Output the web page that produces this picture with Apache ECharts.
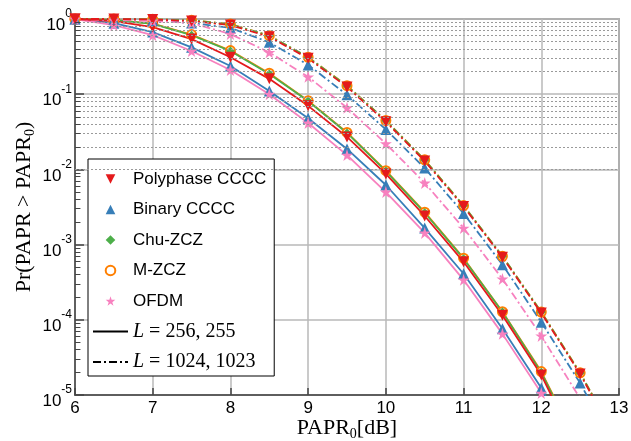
<!DOCTYPE html>
<html><head><meta charset="utf-8">
<script src="https://cdn.jsdelivr.net/npm/echarts@6/dist/echarts.min.js"></script>
<style>html,body{margin:0;padding:0;background:#fff}#c{width:631px;height:441px}</style>
</head><body><div id="c"></div>
<script>
// x positions (dB)
const xs256 = [6, 6.5, 7, 7.5, 8, 8.5, 9, 9.5, 10, 10.5, 11, 11.5, 12, 12.5];
const xs1024 = [6, 6.5, 7, 7.5, 8, 8.5, 9, 9.5, 10, 10.5, 11, 11.5, 12, 12.5, 13];

// L = 256, 255 (solid)
const poly256 = [1.0, 0.94, 0.78, 0.54, 0.31, 0.16, 0.070, 0.027, 0.0087, 0.0024, 5.9e-4, 1.15e-4, 1.85e-5, 1.6e-6];
const binary256 = [1.0, 0.88, 0.67, 0.42, 0.237, 0.11, 0.048, 0.0187, 0.0062, 0.00166, 4.1e-4, 7.6e-5, 1.24e-5, 1.3e-6];
const chu256 = [1.0, 0.97, 0.86, 0.61, 0.375, 0.186, 0.081, 0.0305, 0.0095, 0.00265, 6.5e-4, 1.27e-4, 2.0e-5, 1.8e-6];
const mzcz256 = [1.0, 0.97, 0.87, 0.62, 0.38, 0.19, 0.082, 0.031, 0.0096, 0.0027, 6.6e-4, 1.28e-4, 2.05e-5, 1.9e-6];
const ofdm256 = [1.0, 0.83, 0.61, 0.375, 0.21, 0.10, 0.0414, 0.0155, 0.005, 0.00143, 3.4e-4, 6.5e-5, 1.06e-5, 8e-7];

// L = 1024, 1023 (dash-dot)
const poly1024 = [1.0, 0.999, 0.985, 0.94, 0.83, 0.58, 0.30, 0.125, 0.043, 0.0129, 0.0032, 6.8e-4, 1.23e-4, 1.9e-5, 2.2e-6];
const binary1024 = [1.0, 0.99, 0.955, 0.885, 0.76, 0.49, 0.245, 0.098, 0.034, 0.0104, 0.0026, 5.4e-4, 9.3e-5, 1.44e-5, 1.6e-6];
const chu1024 = [1.0, 0.999, 0.99, 0.96, 0.85, 0.60, 0.31, 0.129, 0.0445, 0.0133, 0.0033, 7.0e-4, 1.27e-4, 1.96e-5, 2.3e-6];
const mzcz1024 = [1.0, 0.999, 0.99, 0.96, 0.855, 0.60, 0.31, 0.13, 0.0447, 0.0134, 0.0033, 7.0e-4, 1.27e-4, 1.97e-5, 2.3e-6];
const ofdm1024 = [1.0, 0.97, 0.94, 0.885, 0.63, 0.36, 0.17, 0.066, 0.022, 0.0066, 0.00166, 3.5e-4, 6.1e-5, 9.0e-6, 9e-7];

// axis ticks
const xTicks = [6, 7, 8, 9, 10, 11, 12, 13];
const yDecades = [-5, -4, -3, -2, -1, 0];

const names = ['Polyphase CCCC', 'Binary CCCC', 'Chu-ZCZ', 'M-ZCZ', 'OFDM'];
const lenNames = ['L256', 'L1024'];

const colors = {red: '#e41a1c', blue: '#377eb8', green: '#4daf4a', orange: '#ff7f00', pink: '#f781bf'};
const downTri = 'path://M0,0L100,0L50,86.6Z';
const star = 'path://M100,0L122.45,69.1L195.1,69.1L136.3,111.8L158.8,180.9L100,138.2L41.2,180.9L63.7,111.8L4.9,69.1L77.55,69.1Z';
const dashDot = [8, 3, 2, 3];

function zip(xs, ys) { return xs.map((x, i) => [x, ys[i]]); }

function mk(name, xs, ys, color, symbol, size, dash) {
  return {
    type: 'line', name: name, data: zip(xs, ys),
    symbol: symbol, symbolSize: size, showSymbol: true, clip: true,
    itemStyle: {color: color, borderWidth: symbol === 'emptyCircle' ? 1.8 : 0},
    lineStyle: {color: color, width: 1.8, type: dash ? dashDot : 'solid'},
    emphasis: {disabled: true}, animation: false
  };
}

// minor grid lines and minor ticks on the log axis
const minorVals = [];
yDecades.slice(0, 5).forEach(e => { for (let k = 2; k <= 9; k++) minorVals.push(k * Math.pow(10, e)); });

const series = [
  {
    type: 'line', name: '_grid', data: [], silent: true,
    markLine: {
      silent: true, symbol: ['none', 'none'], label: {show: false}, animation: false,
      lineStyle: {type: [2, 2], color: '#9a9a9a', width: 1},
      data: minorVals.map(v => ({yAxis: v}))
    }
  },
  {
    type: 'line', name: '_ticks', data: [], silent: true,
    markLine: {
      silent: true, symbol: ['none', 'none'], label: {show: false}, animation: false,
      lineStyle: {type: 'solid', color: '#444', width: 1},
      data: minorVals.map(v => [{coord: [6, v]}, {coord: [6.07, v]}])
    }
  },
  mk(names[3], xs256, mzcz256, colors.orange, 'emptyCircle', 9, false),
  mk(names[2], xs256, chu256, colors.green, 'diamond', 9, false),
  mk(names[1], xs256, binary256, colors.blue, 'triangle', 11, false),
  mk(names[4], xs256, ofdm256, colors.pink, star, 12, false),
  mk(names[0], xs256, poly256, colors.red, downTri, 11, false),
  mk(names[3], xs1024, mzcz1024, colors.orange, 'emptyCircle', 9, true),
  mk(names[2], xs1024, chu1024, colors.green, 'diamond', 9, true),
  mk(names[1], xs1024, binary1024, colors.blue, 'triangle', 11, true),
  mk(names[4], xs1024, ofdm1024, colors.pink, star, 12, true),
  mk(names[0], xs1024, poly1024, colors.red, downTri, 11, true),
  {type: 'line', name: lenNames[0], data: [], symbol: 'none', itemStyle: {color: '#000'}, lineStyle: {color: '#000', width: 1.8, type: 'solid'}},
  {type: 'line', name: lenNames[1], data: [], symbol: 'none', itemStyle: {color: '#000'}, lineStyle: {color: '#000', width: 1.8, type: dashDot}}
];

const sans = 'Liberation Sans, Arial, Helvetica, sans-serif';
const serif = 'Liberation Serif, Times New Roman, serif';
const titleRich = {
  r: {fontFamily: serif, fontSize: 22, color: '#000', lineHeight: 24, verticalAlign: 'top'},
  sub: {fontFamily: serif, fontSize: 14, color: '#000', lineHeight: 14, verticalAlign: 'bottom'}
};

const chart = echarts.init(document.getElementById('c'), null, {renderer: 'canvas'});
chart.setOption({
  animation: false,
  backgroundColor: '#fff',
  grid: {left: 75, right: 12, top: 19, bottom: 46, containLabel: false, outerBoundsMode: 'none',
         show: true, borderColor: '#707070', borderWidth: 1.5, backgroundColor: 'transparent'},
  xAxis: {
    type: 'value', min: xTicks[0], max: xTicks[xTicks.length - 1], interval: 1,
    name: '{r|PAPR}{sub|0}{r|[dB]}', nameLocation: 'middle', nameGap: 22, nameMoveOverlap: false,
    nameTextStyle: {fontFamily: serif, fontSize: 22, color: '#000', rich: titleRich},
    axisLine: {show: true, onZero: false, lineStyle: {color: '#444', width: 1.5}},
    axisTick: {show: true, inside: true, length: 7, lineStyle: {color: '#444', width: 1.5}},
    axisLabel: {fontFamily: sans, fontSize: 17, color: '#000', margin: 5, showMinLabel: true, showMaxLabel: true,
                formatter: v => xTicks.includes(v) ? String(v) : ''},
    splitLine: {show: true, lineStyle: {color: '#b8b8b8', width: 1.5}}
  },
  yAxis: {
    type: 'log', logBase: 10, min: Math.pow(10, yDecades[0]), max: Math.pow(10, yDecades[yDecades.length - 1]),
    splitNumber: 5,
    name: '{r|Pr(PAPR > PAPR}{sub|0}{r|)}', nameLocation: 'middle', nameGap: 38, nameRotate: 90, nameMoveOverlap: false,
    nameTextStyle: {fontFamily: serif, fontSize: 22, color: '#000', rich: titleRich},
    axisLine: {show: true, onZero: false, lineStyle: {color: '#444', width: 1.5}},
    axisTick: {show: true, inside: true, length: 9, lineStyle: {color: '#444', width: 1.5}},
    axisLabel: {
      margin: 3, showMinLabel: true, showMaxLabel: true, padding: [4, 0, 0, 0],
      formatter: v => '{b|10}{s|' + Math.round(Math.log10(v)) + '}',
      rich: {b: {fontFamily: sans, fontSize: 17, color: '#000', lineHeight: 26, verticalAlign: 'bottom'},
             s: {fontFamily: sans, fontSize: 12, color: '#000', lineHeight: 12, verticalAlign: 'top'}}
    },
    splitLine: {show: true, lineStyle: {color: '#b8b8b8', width: 1.5}}
  },
  legend: {
    orient: 'vertical', left: 88, top: 159, selectedMode: false,
    itemWidth: 35, itemHeight: 12, itemGap: 10.5,
    padding: [10, 8, 4, 4], borderColor: '#000', borderWidth: 1, borderRadius: 0, backgroundColor: '#fff',
    textStyle: {fontFamily: sans, fontSize: 17, color: '#000', lineHeight: 20,
      rich: {i: {fontFamily: serif, fontStyle: 'italic', fontSize: 20, color: '#000', lineHeight: 20},
             n: {fontFamily: serif, fontSize: 20, color: '#000', lineHeight: 20}}},
    formatter: name => name === lenNames[0] ? '{i|L}{n| = 256, 255}' : (name === lenNames[1] ? '{i|L}{n| = 1024, 1023}' : name),
    data: names.map(n => ({name: n, lineStyle: {opacity: 0}}))
      .concat(lenNames.map(n => ({name: n, itemStyle: {opacity: 0}})))
  },
  series: series
});
</script>
</body></html>
